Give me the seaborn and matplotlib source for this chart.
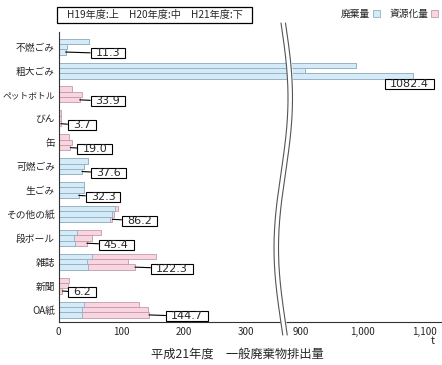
import numpy as np
import pandas as pd
import seaborn as sns
import matplotlib.pyplot as plt
from matplotlib.path import Path
from matplotlib.patches import Patch

# ---------------------------- data ----------------------------
cats = ['不燃ごみ', '粗大ごみ', 'ペットボトル', 'びん', '缶', '可燃ごみ', '生ごみ',
        'その他の紙', '段ボール', '雑誌', '新聞', 'OA紙']
years = ['H19', 'H20', 'H21']

# 廃棄量 (t)
haiki_h19 = [49, 990, 0, 0, 0, 47, 41, 91, 29, 54, 0, 41]
haiki_h20 = [14, 907, 0, 0, 0, 41, 41, 86, 25, 46, 0, 38]
haiki_h21 = [11.3, 1082.4, 0, 0, 0, 37.6, 32.3, 83.0, 27.0, 47.0, 0, 38.0]
# 資源化量 (t)
shigen_h19 = [0, 0, 22, 3.5, 17, 0, 0, 4, 39.5, 102, 17, 87]
shigen_h20 = [0, 0, 37, 4.5, 22, 0, 0, 3, 29, 65, 14.5, 105]
shigen_h21 = [0, 0, 33.9, 3.7, 19.0, 0, 0, 3.2, 18.4, 75.3, 6.2, 106.7]

left_ticks = [0, 100, 200, 300]
right_ticks = [900, 1000, 1100]
right_ticklabels = ['900', '1,000', '1,100']

# label box offsets from the H21 bar end (pixels)
label_dx = [25, 0, 11, 7, 7, 9, 7, 9.5, 12, 16, 6, 17]

# ---------------------------- table ----------------------------
rows = []
for yr, hk, sg in zip(years, [haiki_h19, haiki_h20, haiki_h21],
                      [shigen_h19, shigen_h20, shigen_h21]):
    for c, h, s in zip(cats, hk, sg):
        rows.append({'cat': c, 'year': yr, 'haiki': h, 'total': h + s})
df = pd.DataFrame(rows)

# ---------------------------- style ----------------------------
sns.set_style('white')
plt.rcParams['font.family'] = ['Noto Sans CJK JP', 'DejaVu Sans']

blue, blue_edge = '#d5ecf8', '#8fb0c2'
pink, pink_edge = '#f9d5e1', '#c29aa8'
W = 0.67

fig = plt.figure(figsize=(4.42, 3.65), dpi=100)
ax1 = fig.add_axes([58.5 / 442, 43 / 365, (287 - 58.5) / 442, 290 / 365])
ax2 = fig.add_axes([287 / 442, 43 / 365, (442 - 287) / 442, 290 / 365])

for ax in (ax1, ax2):
    sns.barplot(data=df, y='cat', x='total', hue='year', order=cats, hue_order=years,
                orient='h', dodge=True, width=W, palette=[pink] * 3, saturation=1,
                edgecolor=pink_edge, linewidth=0.6, errorbar=None, legend=False, ax=ax)
    sns.barplot(data=df, y='cat', x='haiki', hue='year', order=cats, hue_order=years,
                orient='h', dodge=True, width=W, palette=[blue] * 3, saturation=1,
                edgecolor=blue_edge, linewidth=0.6, errorbar=None, legend=False, ax=ax)
    ax.set_ylim(11.52, -0.615)
    ax.set_xlabel('')
    ax.set_ylabel('')
    for s in ['top', 'right']:
        ax.spines[s].set_visible(False)
    ax.spines['bottom'].set_color('#333333')
    ax.spines['bottom'].set_linewidth(0.8)
    ax.tick_params(length=0, labelsize=7, pad=3.4)

ax1.set_xlim(0, 365.6)
ax1.set_xticks(left_ticks)
ax1.spines['left'].set_color('#333333')
ax1.spines['left'].set_linewidth(0.8)
ax1.tick_params(axis='y', pad=2.5)
for t in ax1.get_yticklabels():
    if t.get_text() == 'ペットボトル':
        t.set_fontsize(6.3)

ax2.set_xlim(877.2, 1128.9)
ax2.set_xticks(right_ticks)
ax2.set_xticklabels(right_ticklabels)
ax2.spines['left'].set_visible(False)
ax2.tick_params(left=False, labelleft=False)


# ---------------------------- value boxes ----------------------------
def square_pad(padx, pady):
    def style(x0, y0, width, height, mutation_size):
        px, py = padx * mutation_size, pady * mutation_size
        x0, y0 = x0 - px, y0 - py
        x1, y1 = x0 + width + 2 * px, y0 + height + 2 * py
        return Path([(x0, y0), (x1, y0), (x1, y1), (x0, y1), (x0, y0)], closed=True)
    return style


box = dict(boxstyle=square_pad(0.45, 0.0), fc='white', ec='black', lw=0.8)
tot21 = [h + s for h, s in zip(haiki_h21, shigen_h21)]
for i, (c, v) in enumerate(zip(cats, tot21)):
    if c == '粗大ごみ':
        ax2.annotate(f'{v:.1f}', xy=(v, i + W / 3), xytext=(15.6 * 0.72, -8.2 * 0.72),
                     textcoords='offset points', ha='right', va='center',
                     fontsize=8, family='DejaVu Sans', bbox=box)
        continue
    ax1.annotate(f'{v:.1f}', xy=(v, i + W / 3), xytext=((label_dx[i] + 5) * 0.72, -1),
                 textcoords='offset points', ha='left', va='center',
                 fontsize=8, family='DejaVu Sans', bbox=box,
                 arrowprops=dict(arrowstyle='-', color='black', lw=0.8,
                                 shrinkA=0, shrinkB=0))

# ---------------------------- axis break ----------------------------
ov = fig.add_axes([0, 0, 1, 1], zorder=10)
ov.set_xlim(0, 442)
ov.set_ylim(365, 0)
ov.axis('off')
ov.patch.set_alpha(0)
yb = np.linspace(23, 335, 200)
xb = 281 + 7 * np.sin(2 * np.pi * (yb - 23) / 300)
ov.fill_betweenx(yb, xb, xb + 4.5, color='white')
ov.plot(xb, yb, color='#555555', lw=0.8)
ov.plot(xb + 4.5, yb, color='#555555', lw=0.8)

# ---------------------------- texts / legend ----------------------------
fig.text(154.5 / 442, 1 - 15 / 365, 'H19年度:上　H20年度:中　H21年度:下',
         ha='center', va='center', fontsize=7.3,
         bbox=dict(boxstyle=square_pad(0.9, 0.25), fc='white', ec='black', lw=0.9))

handles = [Patch(facecolor=blue, edgecolor=blue_edge, lw=0.6),
           Patch(facecolor=pink, edgecolor=pink_edge, lw=0.6)]
fig.legend(handles, ['廃棄量', '資源化量'], loc='center right',
           bbox_to_anchor=(438 / 442, 1 - 14 / 365), ncol=2, markerfirst=False,
           frameon=False, fontsize=7, handlelength=0.7, handleheight=0.7,
           handletextpad=0.3, columnspacing=1.0, borderpad=0, borderaxespad=0)

fig.text(433 / 442, 1 - 341.5 / 365, 't', ha='center', va='center', fontsize=7.5)
fig.text(237 / 442, 1 - 354 / 365, '平成21年度　一般廃棄物排出量',
         ha='center', va='center', fontsize=8.8)

fig.savefig('out.png', dpi=100)
